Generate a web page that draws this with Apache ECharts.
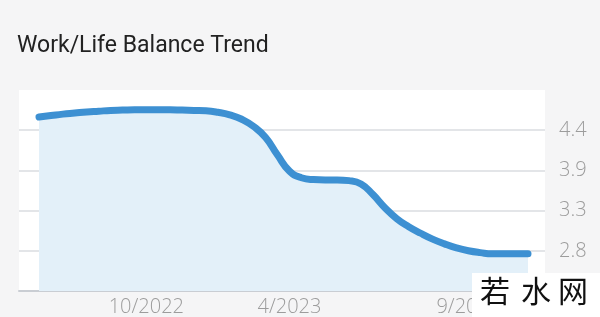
<!DOCTYPE html>
<html><head><meta charset="utf-8">
<script src="https://cdn.jsdelivr.net/npm/echarts@6/dist/echarts.min.js"></script>
<style>html,body{margin:0;padding:0;background:#f5f5f6}#c{width:600px;height:317px}</style>
</head><body><div id="c"></div>
<script>
const chartTitle = 'Work/Life Balance Trend';
const scores = [
  4.58, 4.60, 4.62, 4.635, 4.65, 4.66, 4.67, 4.675, 4.68, 4.68,
  4.68, 4.68, 4.675, 4.67, 4.665, 4.645, 4.61, 4.55, 4.45, 4.30,
  4.06, 3.84, 3.75, 3.725, 3.72, 3.72, 3.71, 3.665, 3.52, 3.34,
  3.19, 3.08, 2.99, 2.91, 2.845, 2.79, 2.75, 2.725, 2.71, 2.71,
  2.71, 2.71
];
const xTickLabels = {9: '10/2022', 21: '4/2023', 36: '9/2023'};
const categories = scores.map((_, i) => xTickLabels[i] || ('p' + i));
const yMin = 2.2, yMax = 4.95, yStep = 0.55;
const watermarkChars = ['若', '水', '网'];

const chart = echarts.init(document.getElementById('c'), null, {renderer: 'canvas'});
const labelFont = '"Open Sans", Roboto, sans-serif';
chart.setOption({
  backgroundColor: '#f5f5f6',
  animation: false,
  title: {
    text: chartTitle, left: 17, top: 35, padding: 0,
    textStyle: {fontFamily: 'Roboto, "Liberation Sans", sans-serif', fontSize: 23, fontWeight: 'normal', color: '#222'}
  },
  grid: [
    {left: 19, right: 55, top: 90, bottom: 26, show: true, backgroundColor: '#ffffff', borderWidth: 0},
    {left: 39, right: 72, top: 90, bottom: 26}
  ],
  xAxis: [
    {gridIndex: 0, type: 'value', min: 0, max: 1, axisLabel: {show: false}, axisTick: {show: false},
     splitLine: {show: false}, axisLine: {show: true, lineStyle: {color: '#c9cdd3', width: 2}}},
    {gridIndex: 1, type: 'category', boundaryGap: false, data: categories,
     axisLine: {show: false}, axisTick: {show: false}, splitLine: {show: false},
     axisLabel: {interval: (i) => xTickLabels[i] !== undefined, formatter: (v, i) => xTickLabels[i] || '',
       fontFamily: labelFont, fontWeight: 300, fontSize: 20, color: '#9c9c9c', margin: 6}}
  ],
  yAxis: [
    {gridIndex: 0, type: 'value', position: 'right', min: yMin, max: yMax, interval: yStep,
     axisLine: {show: false}, axisTick: {show: false},
     axisLabel: {showMinLabel: false, showMaxLabel: false, margin: 14, padding: [6, 0, 0, 0],
       fontFamily: labelFont, fontWeight: 300, fontSize: 20, color: '#9c9c9c',
       formatter: (v) => (Math.round(v * 10 + 1e-6) / 10).toFixed(1)},
     splitLine: {show: true, showMinLine: false, showMaxLine: false, lineStyle: {color: '#e3e5e8', width: 2}}},
    {gridIndex: 1, type: 'value', min: yMin, max: yMax, show: false, splitLine: {show: false}}
  ],
  series: [{
    type: 'line', xAxisIndex: 1, yAxisIndex: 1, data: scores,
    smooth: 0.5, symbol: 'none', clip: false,
    lineStyle: {color: '#3d90d2', width: 7, cap: 'round', join: 'round'},
    areaStyle: {color: '#e3f0f9', opacity: 1}
  }],
  graphic: [
    {type: 'rect', left: 472, top: 273, shape: {width: 128, height: 44}, style: {fill: '#ffffff'}, z: 100},
    ...watermarkChars.map((ch, k) => ({
      type: 'text', left: [480, 521, 558][k], top: 276, z: 101,
      style: {text: ch, fontSize: 30, fontFamily: '"Noto Sans CJK SC", sans-serif', fill: '#111'}
    }))
  ]
});
</script></body></html>
